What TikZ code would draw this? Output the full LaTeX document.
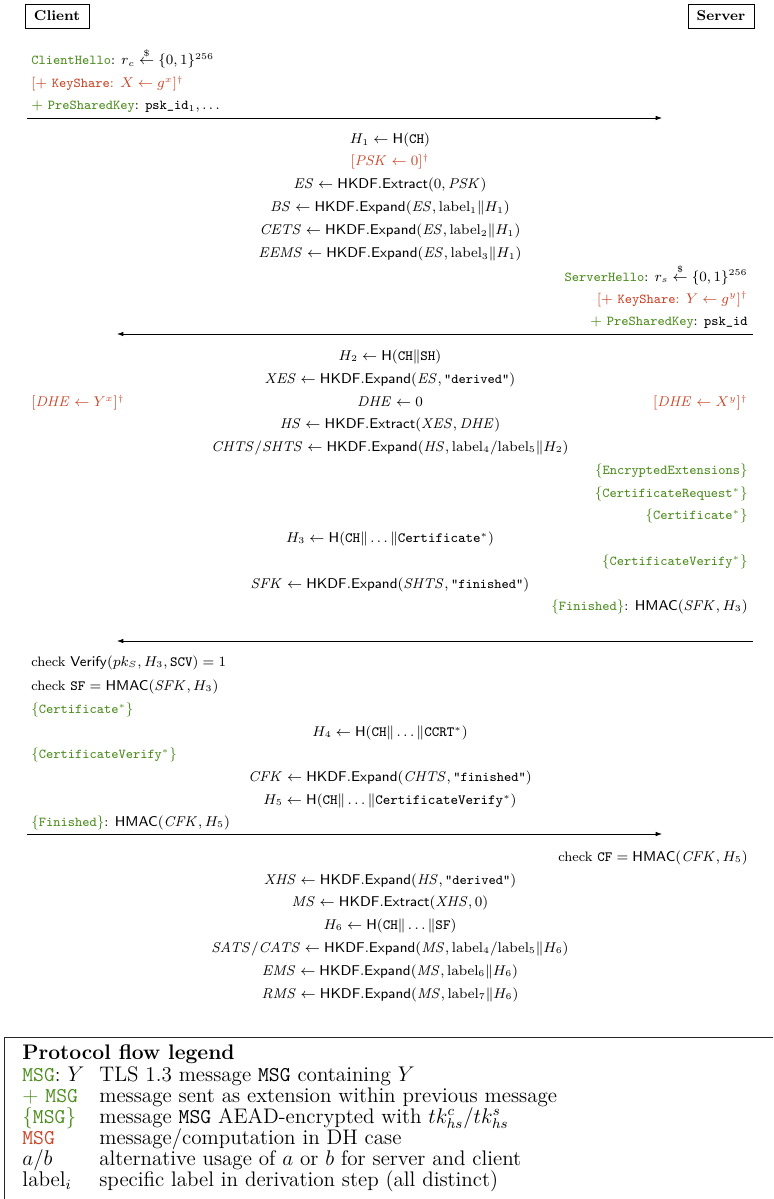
\documentclass[tikz,border=0pt]{standalone}
\usepackage{amsmath,amssymb}
\usetikzlibrary{arrows.meta}
\definecolor{tgreen}{RGB}{77,140,30}
\definecolor{tred}{RGB}{200,70,40}
\newcommand{\tg}[1]{\textcolor{tgreen}{#1}}
\newcommand{\tr}[1]{\textcolor{tred}{#1}}
\newcommand{\sampleft}{\mathrel{\overset{\scriptscriptstyle\$}{\leftarrow}}}
\newcommand{\lbl}[1]{\mathrm{label}_{#1}}
\tikzset{
  txt/.style={inner sep=0pt, font=\fontsize{7.7}{9}\selectfont},
  cl/.style={txt, anchor=base west},
  sv/.style={txt, anchor=base east},
  mid/.style={txt, anchor=base},
  party/.style={draw, font=\footnotesize\bfseries, inner xsep=5pt, minimum height=13.5pt},
  msg/.style={-{Latex[length=3.6pt,width=2.6pt]}, line width=0.45pt},
  leg/.style={inner sep=0pt, anchor=base west, font=\fontsize{11.9}{14}\selectfont},
  legtitle/.style={leg, font=\fontsize{11.9}{14}\selectfont\bfseries},
}
\begin{document}
\begin{tikzpicture}[x=0.5646pt,y=-0.5646pt]
\clip (0,0) rectangle (773,1199);
\useasboundingbox (0,0) rectangle (773,1199);
% parties
\node[party] (client) at (57,16) {Client};
\node[party] (server) at (721,16) {Server};
% ClientHello
\node[cl] (c1) at (31,65) {\tg{\texttt{ClientHello}}: $r_c \sampleft \{0,1\}^{256}$};
\node[cl] (c2) at (31,88) {\tr{[$+$ \texttt{KeyShare}: $X \leftarrow g^x$]$^\dagger$}};
\node[cl] (c3) at (31,110) {\tg{$+$ \texttt{PreSharedKey}}: \texttt{psk\_id}$_1, \ldots$};
\coordinate (a1s) at (27,118);
\coordinate (a1e) at (662,118);
\draw[msg] (a1s) -- (a1e);
% server computations 1
\node[mid] (m1) at (390,144) {$H_1 \leftarrow \mathsf{H}(\mathtt{CH})$};
\node[mid] (m2) at (390,166) {\tr{$[\mathit{PSK} \leftarrow 0]^\dagger$}};
\node[mid] (m3) at (390,189) {$\mathit{ES} \leftarrow \mathsf{HKDF.Extract}(0, \mathit{PSK})$};
\node[mid] (m4) at (390,212) {$\mathit{BS} \leftarrow \mathsf{HKDF.Expand}(\mathit{ES}, \lbl{1}\|H_1)$};
\node[mid] (m5) at (390,235) {$\mathit{CETS} \leftarrow \mathsf{HKDF.Expand}(\mathit{ES}, \lbl{2}\|H_1)$};
\node[mid] (m6) at (390,258) {$\mathit{EEMS} \leftarrow \mathsf{HKDF.Expand}(\mathit{ES}, \lbl{3}\|H_1)$};
% ServerHello
\node[sv] (s1) at (748,281) {\tg{\texttt{ServerHello}}: $r_s \sampleft \{0,1\}^{256}$};
\node[sv] (s2) at (748,303) {\tr{[$+$ \texttt{KeyShare}: $Y \leftarrow g^y$]$^\dagger$}};
\node[sv] (s3) at (748,325) {\tg{$+$ \texttt{PreSharedKey}}: \texttt{psk\_id}};
\coordinate (a2s) at (753,334);
\coordinate (a2e) at (117,334);
\draw[msg] (a2s) -- (a2e);
% handshake secrets
\node[mid] (m7) at (390,360) {$H_2 \leftarrow \mathsf{H}(\mathtt{CH}\|\mathtt{SH})$};
\node[mid] (m8) at (390,383) {$\mathit{XES} \leftarrow \mathsf{HKDF.Expand}(\mathit{ES}, \text{\texttt{"derived"}})$};
\node[cl] (dc) at (31,406) {\tr{$[\mathit{DHE} \leftarrow Y^x]^\dagger$}};
\node[mid] (m9) at (390,406) {$\mathit{DHE} \leftarrow 0$};
\node[sv] (ds) at (748,406) {\tr{$[\mathit{DHE} \leftarrow X^y]^\dagger$}};
\node[mid] (m10) at (390,428) {$\mathit{HS} \leftarrow \mathsf{HKDF.Extract}(\mathit{XES}, \mathit{DHE})$};
\node[mid] (m11) at (390,451) {$\mathit{CHTS}/\mathit{SHTS} \leftarrow \mathsf{HKDF.Expand}(\mathit{HS}, \lbl{4}/\lbl{5}\|H_2)$};
\node[sv] (s4) at (748,474) {\tg{$\{$\texttt{EncryptedExtensions}$\}$}};
\node[sv] (s5) at (748,497) {\tg{$\{$\texttt{CertificateRequest}$^*\}$}};
\node[sv] (s6) at (748,519) {\tg{$\{$\texttt{Certificate}$^*\}$}};
\node[mid] (m12) at (390,542) {$H_3 \leftarrow \mathsf{H}(\mathtt{CH}\|\ldots\|\mathtt{Certificate}^*)$};
\node[sv] (s7) at (748,565) {\tg{$\{$\texttt{CertificateVerify}$^*\}$}};
\node[mid] (m13) at (390,588) {$\mathit{SFK} \leftarrow \mathsf{HKDF.Expand}(\mathit{SHTS}, \text{\texttt{"finished"}})$};
\node[sv] (s8) at (748,610) {\tg{$\{$\texttt{Finished}$\}$}: $\mathsf{HMAC}(\mathit{SFK}, H_3)$};
\coordinate (a3s) at (753,641);
\coordinate (a3e) at (117,641);
\draw[msg] (a3s) -- (a3e);
% client side
\node[cl] (c4) at (31,666) {check $\mathsf{Verify}(pk_S, H_3, \mathtt{SCV}) = 1$};
\node[cl] (c5) at (31,690) {check $\mathtt{SF} = \mathsf{HMAC}(\mathit{SFK}, H_3)$};
\node[cl] (c6) at (31,713) {\tg{$\{$\texttt{Certificate}$^*\}$}};
\node[mid] (m14) at (390,736) {$H_4 \leftarrow \mathsf{H}(\mathtt{CH}\|\ldots\|\mathtt{CCRT}^*)$};
\node[cl] (c7) at (31,758) {\tg{$\{$\texttt{CertificateVerify}$^*\}$}};
\node[mid] (m15) at (390,781) {$\mathit{CFK} \leftarrow \mathsf{HKDF.Expand}(\mathit{CHTS}, \text{\texttt{"finished"}})$};
\node[mid] (m16) at (390,804) {$H_5 \leftarrow \mathsf{H}(\mathtt{CH}\|\ldots\|\mathtt{CertificateVerify}^*)$};
\node[cl] (c8) at (31,826) {\tg{$\{$\texttt{Finished}$\}$}: $\mathsf{HMAC}(\mathit{CFK}, H_5)$};
\coordinate (a4s) at (27,834);
\coordinate (a4e) at (662,834);
\draw[msg] (a4s) -- (a4e);
% application secrets
\node[sv] (s9) at (748,861) {check $\mathtt{CF} = \mathsf{HMAC}(\mathit{CFK}, H_5)$};
\node[mid] (m17) at (390,884) {$\mathit{XHS} \leftarrow \mathsf{HKDF.Expand}(\mathit{HS}, \text{\texttt{"derived"}})$};
\node[mid] (m18) at (390,906) {$\mathit{MS} \leftarrow \mathsf{HKDF.Extract}(\mathit{XHS}, 0)$};
\node[mid] (m19) at (390,929) {$H_6 \leftarrow \mathsf{H}(\mathtt{CH}\|\ldots\|\mathtt{SF})$};
\node[mid] (m20) at (390,952) {$\mathit{SATS}/\mathit{CATS} \leftarrow \mathsf{HKDF.Expand}(\mathit{MS}, \lbl{4}/\lbl{5}\|H_6)$};
\node[mid] (m21) at (390,975) {$\mathit{EMS} \leftarrow \mathsf{HKDF.Expand}(\mathit{MS}, \lbl{6}\|H_6)$};
\node[mid] (m22) at (390,998) {$\mathit{RMS} \leftarrow \mathsf{HKDF.Expand}(\mathit{MS}, \lbl{7}\|H_6)$};
% legend
\draw[line width=0.55pt, black!85] (4,1230) -- (4,1037) -- (800,1037);
\node[legtitle] (lt) at (22,1059) {Protocol flow legend};
\node[leg] (l1a) at (22,1081) {\tg{\texttt{MSG}}: $Y$};
\node[leg] (l1b) at (99,1081) {TLS 1.3 message \texttt{MSG} containing $Y$};
\node[leg] (l2a) at (22,1102) {\tg{$+$ \texttt{MSG}}};
\node[leg] (l2b) at (99,1102) {message sent as extension within previous message};
\node[leg] (l3a) at (22,1123) {\tg{$\{$\texttt{MSG}$\}$}};
\node[leg] (l3b) at (99,1123) {message \texttt{MSG} AEAD-encrypted with $tk^c_{hs}/tk^s_{hs}$};
\node[leg] (l4a) at (22,1144) {\tr{\texttt{MSG}}};
\node[leg] (l4b) at (99,1144) {message/computation in DH case};
\node[leg] (l5a) at (22,1165) {$a/b$};
\node[leg] (l5b) at (99,1165) {alternative usage of $a$ or $b$ for server and client};
\node[leg] (l6a) at (22,1186) {$\mathrm{label}_i$};
\node[leg] (l6b) at (99,1186) {specific label in derivation step (all distinct)};
\end{tikzpicture}
\end{document}
